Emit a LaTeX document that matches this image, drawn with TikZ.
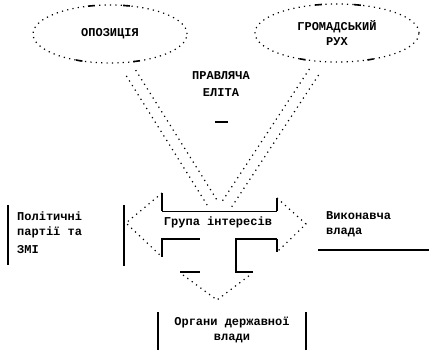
\documentclass[tikz,border=0pt]{standalone}
\usepackage{fontspec}
\newfontfamily\diagfont{Liberation Mono}
\usetikzlibrary{shapes.geometric,calc}
\begin{document}
\begin{tikzpicture}[x=1pt,y=-1pt,
  lbl/.style={font=\diagfont\bfseries\fontsize{12}{15}\selectfont, inner sep=0pt},
  dots/.style={line width=1.2pt, dash pattern=on 1.2pt off 4.2pt},
  oval/.style={ellipse, draw, dots, minimum width=154pt, minimum height=58pt, inner sep=0pt},
  heavy/.style={line width=2.6pt},
  edge/.style={line width=1.5pt},
  tick/.style={line width=1.6pt},
]
\useasboundingbox (0,0) rectangle (429,350);

% upper actors
\node[oval, lbl] (opp) at (110,34) {ОПОЗИЦІЯ};
\node[oval, lbl, minimum width=164pt, align=center] (civ) at (337,33) {ГРОМАДСЬКИЙ\\РУХ};
\foreach \t in {104,77.6,246.4,290.1}
  \draw[tick, domain=\t-2.6:\t+2.6, variable=\u, samples=6] plot ({110+77*cos(\u)},{34-29*sin(\u)});
\foreach \t in {103,75.5,245.1,294.1}
  \draw[tick, domain=\t-2.4:\t+2.4, variable=\u, samples=6] plot ({337+82*cos(\u)},{33-29*sin(\u)});

\node[lbl, align=center] (elite) at (221,84) {ПРАВЛЯЧА\\[2pt]ЕЛІТА};
\draw[tick] (215,122) -- (228,122);

% interest group: three-way arrow
\coordinate (ltip) at (126,223);
\coordinate (rtip) at (306,224);
\coordinate (dtip) at (217,300);
\coordinate (inL) at (213,204);
\coordinate (inR) at (227,204);
\coordinate (srcL) at (131,73);
\coordinate (srcR) at (314,72);

% wide dotted links from the upper actors
\foreach \s/\e in {srcL/inL, srcR/inR} {
  \draw[dots] ($(\s)!5.5pt!90:(\e)$) -- ($(\e)!5.5pt!-90:(\s)$);
  \draw[dots] ($(\s)!5.5pt!-90:(\e)$) -- ($(\e)!5.5pt!90:(\s)$);
}

\draw[edge] (162,211.5) -- (277,211.5);
\draw[line width=1.1pt] (162,193) -- (162,211.5);
\draw[line width=1.1pt] (277,198) -- (277,211.5);
\draw[heavy] (162,257) -- (162,239) -- (200,239);
\draw[heavy] (253,272) -- (236,272) -- (236,239) -- (277,239);
\draw[line width=1.1pt] (277,239) -- (277,252);
\draw[heavy] (180,272) -- (200,272);
\draw[dots] (162,193) -- (ltip) -- (162,257);
\draw[dots] (277,198) -- (rtip) -- (277,252);
\draw[dots] (183,275) -- (dtip) -- (250,275);
\node[lbl] (grp) at (218,222) {Група інтересів};

% left target
\node[lbl, anchor=north west, align=left] (left) at (17,212) {Політичні\\партії та\\[3pt]ЗМІ};
\draw[edge] (8,205) -- (8,265);
\draw[edge] (124,205) -- (124,266);

% right target
\node[lbl, anchor=north west, align=left] (right) at (326,211) {Виконавча\\влада};
\draw[edge] (318,250) -- (429,250);

% lower target
\node[lbl, align=center] (low) at (232,330) {Органи державної\\влади};
\draw[edge] (158,312) -- (158,350);
\draw[edge] (306,312) -- (306,350);
\end{tikzpicture}
\end{document}
